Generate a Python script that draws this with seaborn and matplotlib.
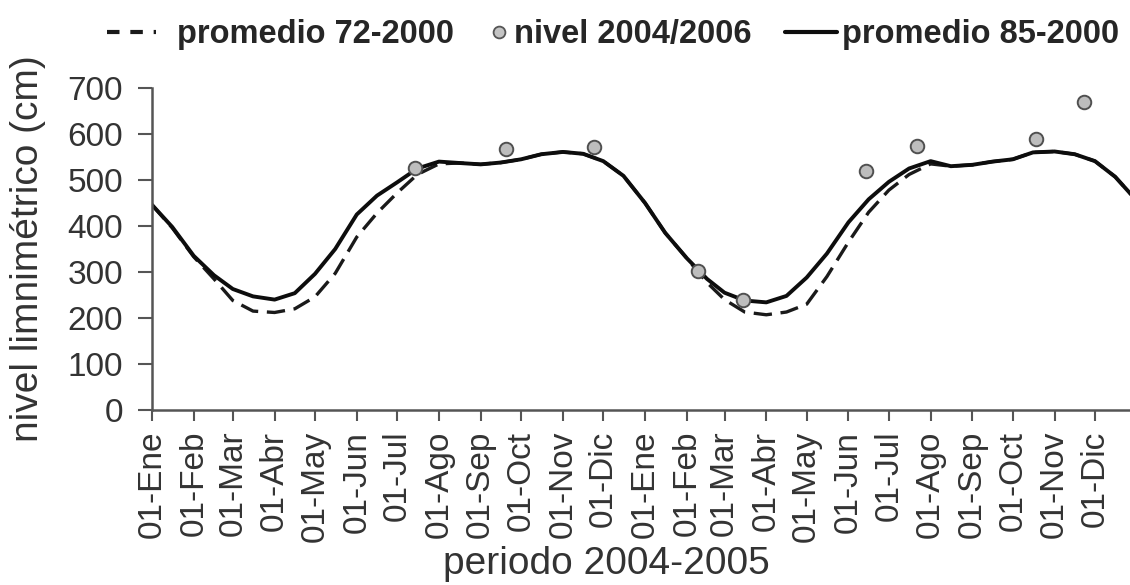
import matplotlib
matplotlib.use("Agg")
import matplotlib.pyplot as plt
from matplotlib.lines import Line2D
import pandas as pd
import seaborn as sns

# ---------------- data ----------------
month_labels = ["Ene", "Feb", "Mar", "Abr", "May", "Jun",
                "Jul", "Ago", "Sep", "Oct", "Nov", "Dic"]

# semi-monthly values (1st and 16th of each month), 01-Jan-2004 .. 01-Jan-2006
prom_85_2000 = [446, 398, 335, 293, 263, 247, 240, 254, 296, 350, 425, 466,
                495, 525, 540, 537, 534, 538, 545, 556, 561, 557, 541, 509,
                450, 385, 330, 285, 255, 238, 234, 248, 288, 340, 408, 458,
                496, 525, 541, 530, 533, 540, 545, 560, 562, 556, 541, 507,
                455]
prom_72_2000 = [446, 396, 333, 285, 238, 215, 212, 220, 246, 297, 376, 428,
                472, 512, 535, 537, 534, 538, 545, 556, 561, 557, 541, 509,
                450, 385, 330, 277, 240, 213, 207, 213, 230, 290, 365, 430,
                478, 512, 535, 530, 533, 540, 545, 560, 562, 556, 541, 507,
                455]

nivel_dates = ["2004-07-14", "2004-09-20", "2004-11-24", "2005-02-09",
               "2005-03-15", "2005-06-14", "2005-07-22", "2005-10-18",
               "2005-11-23"]
nivel_vals = [526, 567, 572, 302, 239, 520, 574, 589, 670]

y_ticks = [0, 100, 200, 300, 400, 500, 600, 700]

# ---------------- dates ----------------
first_days = pd.date_range("2004-01-01", "2006-01-01", freq="MS")
dates = []
for d in first_days[:-1]:
    dates += [d, d + pd.Timedelta(days=15)]
dates.append(first_days[-1])

df = pd.DataFrame({"fecha": dates, "p85": prom_85_2000, "p72": prom_72_2000})
dn = pd.DataFrame({"fecha": pd.to_datetime(nivel_dates), "nivel": nivel_vals})

# ---------------- style ----------------
sns.set_style("ticks")
plt.rcParams["font.family"] = ["Liberation Sans", "DejaVu Sans"]

W, H = 1130, 585
fig = plt.figure(figsize=(W / 100, H / 100), dpi=100)
ax = fig.add_axes([152 / W, 1 - 410 / H, (1130 - 152) / W, (410 - 88) / H])

sns.lineplot(data=df, x="fecha", y="p72", ax=ax, color="#1a1a1a", lw=2.4,
             linestyle=(0, (5.5, 2.6)), legend=False)
sns.lineplot(data=df, x="fecha", y="p85", ax=ax, color="#0d0d0d", lw=2.8,
             legend=False)
sns.scatterplot(data=dn, x="fecha", y="nivel", ax=ax, s=95, color="#bdbdbd",
                edgecolor="#505050", linewidth=1.4, zorder=5, legend=False)

ax.set_ylim(0, 700)
ax.set_yticks(y_ticks)
ax.set_xlim(pd.Timestamp("2004-01-01"), pd.Timestamp("2005-12-27"))
ax.set_xticks(list(first_days[:-1]))
ax.set_xticklabels([f"01-{m}" for m in month_labels * 2], rotation=90)

for s in ["top", "right"]:
    ax.spines[s].set_visible(False)
for s in ["left", "bottom"]:
    ax.spines[s].set_color("#555555")
    ax.spines[s].set_linewidth(1.8)

ax.tick_params(axis="y", length=10, width=1.5, color="#555555", pad=11,
               labelsize=24, labelcolor="#333333")
ax.tick_params(axis="x", length=8, width=1.5, color="#555555", pad=7,
               labelsize=24, labelcolor="#333333")

ax.set_ylabel("nivel limnimétrico (cm)", fontsize=28, color="#333333")
ax.yaxis.set_label_coords((46 - 152) / 978, 0.5)
ax.set_xlabel("periodo 2004-2005", fontsize=28, color="#333333")
ax.xaxis.set_label_coords((606 - 152) / 978, (410 - 546) / 322)

# ---------------- legend (three separate entries) ----------------
prop = {"weight": "bold", "size": 23.5}
y_leg = 1 - 35 / H
h1 = Line2D([], [], color="#1a1a1a", lw=3.0, linestyle=(0, (3.0, 2.6)))
h2 = Line2D([], [], marker="o", linestyle="none", markersize=8.5,
            markerfacecolor="#c4c4c4", markeredgecolor="#555555",
            markeredgewidth=1.3)
h3 = Line2D([], [], color="#0d0d0d", lw=3.0)
common = dict(loc="center left", frameon=False, borderpad=0,
              borderaxespad=0, prop=prop)
fig.legend(handles=[h1], labels=["promedio 72-2000"],
           bbox_to_anchor=(107 / W, y_leg), handlelength=1.5,
           handletextpad=0.63, **common)
fig.legend(handles=[h2], labels=["nivel 2004/2006"],
           bbox_to_anchor=(489 / W, y_leg), handlelength=0.6,
           handletextpad=0.18, **common)
fig.legend(handles=[h3], labels=["promedio 85-2000"],
           bbox_to_anchor=(785 / W, y_leg), handlelength=1.6,
           handletextpad=0.15, **common)

fig.savefig("out.png", dpi=100)
